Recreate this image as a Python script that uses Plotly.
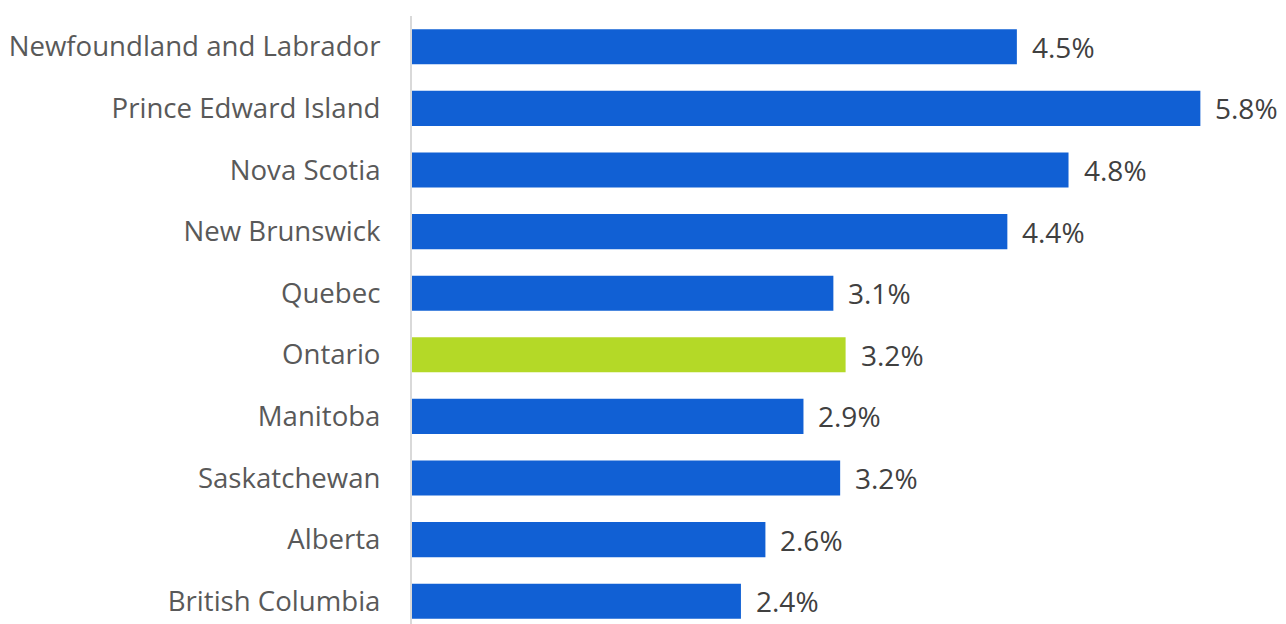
import plotly.graph_objects as go

provinces = ["Newfoundland and Labrador", "Prince Edward Island", "Nova Scotia",
             "New Brunswick", "Quebec", "Ontario", "Manitoba", "Saskatchewan",
             "Alberta", "British Columbia"]
values = [4.45, 5.80, 4.83, 4.38, 3.10, 3.19, 2.88, 3.15, 2.60, 2.42]
labels = ["4.5%", "5.8%", "4.8%", "4.4%", "3.1%", "3.2%", "2.9%", "3.2%", "2.6%", "2.4%"]

BLUE = "#1160D4"
GREEN = "#B4D927"
colors = [GREEN if p == "Ontario" else BLUE for p in provinces]

FONT = "Open Sans"

fig = go.Figure(go.Bar(
    x=values, y=provinces, orientation="h",
    marker=dict(color=colors, line=dict(width=0)),
    width=0.57, hoverinfo="skip",
))

for p, v, t in zip(provinces, values, labels):
    fig.add_annotation(x=v, y=p, text=t, showarrow=False, xanchor="left",
                       xshift=13, font=dict(family=FONT, size=28, color="#404040"))

# page body adds an 8px margin; the figure is sized to fill the rest
fig.update_layout(
    width=1278, height=616,
    margin=dict(l=404, r=0, t=8, b=0, autoexpand=False),
    paper_bgcolor="white", plot_bgcolor="white",
    showlegend=False,
    xaxis=dict(range=[0, 6.43], visible=False, fixedrange=True),
    yaxis=dict(categoryorder="array", categoryarray=provinces,
               range=[9.37, -0.5], showgrid=False, zeroline=False,
               showline=True, linecolor="#D9D9D9", linewidth=2,
               ticks="", ticklabelstandoff=24, automargin=False,
               tickfont=dict(family=FONT, size=27.6, color="#595959")),
)

fig.write_html("out.html")
